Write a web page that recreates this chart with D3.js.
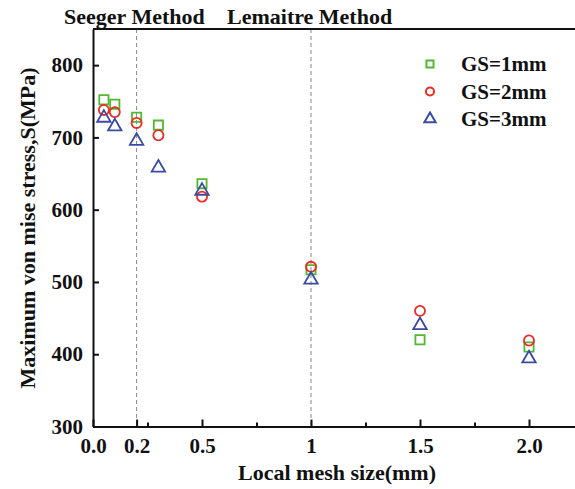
<!DOCTYPE html>
<html lang="en">
  <head>
    <meta charset="utf-8">
    <title>Mesh size vs stress</title>
    <style>
      body { margin: 0; background: #fff; }
      text { font-family: "Liberation Serif", "Times New Roman", serif; font-weight: bold; fill: #111; }
    </style>
  </head>
  <body>
    <svg class="chart"></svg>

    <script src="https://d3js.org/d3.v7.min.js"></script>
    <script type="text/javascript">
      // data
      var meshSizes = [0.05, 0.1, 0.2, 0.3, 0.5, 1, 1.5, 2];
      var gs1 = [752, 746, 728, 717, 636, 517, 420, 410];
      var gs2 = [738, 735, 720, 703, 618, 521, 460, 419];
      var gs3 = [727, 715, 695, 658, 626, 503, 440, 394];
      var seriesNames = ['GS=1mm', 'GS=2mm', 'GS=3mm'];
      var xTickValues = [0, 0.2, 0.5, 1, 1.5, 2];
      var xTickLabels = ['0.0', '0.2', '0.5', '1', '1.5', '2.0'];
      var xMinorTicks = [0.25, 0.75, 1.25, 1.75];
      var yTickValues = [300, 400, 500, 600, 700, 800];
      var methodLines = [0.2, 1];

      var w = 575;
      var h = 489;

      var svg = d3.select('.chart')
                  .attr('width', w)
                  .attr('height', h);

      var x = d3.scaleLinear().domain([0, 2.25]).range([93, 583.5]);
      var y = d3.scaleLinear().domain([300, 850]).range([426.5, 29]);

      var colors = ['#52b832', '#ee2a22', '#3a4ca2'];
      var symbols = [d3.symbolSquare, d3.symbolCircle, d3.symbolTriangle];
      var sizes = [85, 80, 78];
      var legendSizes = [50, 52, 55];
      var allSeries = [gs1, gs2, gs3];

      // dashed method separators
      svg.selectAll('line.sep')
         .data(methodLines)
         .enter()
         .append('line')
         .attr('class', 'sep')
         .attr('x1', function(d) { return x(d); })
         .attr('x2', function(d) { return x(d); })
         .attr('y1', y(850))
         .attr('y2', y(300))
         .attr('stroke', '#888')
         .attr('stroke-width', 1)
         .attr('stroke-dasharray', '4,3');

      // axes
      var xAxis = d3.axisBottom(x)
                    .tickValues(xTickValues)
                    .tickFormat(function(d, i) { return xTickLabels[i]; })
                    .tickSize(-7)
                    .tickSizeOuter(0)
                    .tickPadding(12);
      var gx = svg.append('g')
                  .attr('transform', 'translate(0,' + y(300) + ')')
                  .call(xAxis);

      var gxMinor = svg.append('g')
                       .attr('transform', 'translate(0,' + y(300) + ')')
                       .call(d3.axisBottom(x).tickValues(xMinorTicks).tickSize(-4).tickFormat(''));
      gxMinor.select('.domain').remove();

      var yAxis = d3.axisLeft(y)
                    .tickValues(yTickValues)
                    .tickSize(-6)
                    .tickSizeOuter(0)
                    .tickPadding(10);
      var gy = svg.append('g')
                  .attr('transform', 'translate(' + x(0) + ',0)')
                  .call(yAxis);

      svg.selectAll('.domain').attr('stroke', '#111').attr('stroke-width', 2);
      svg.selectAll('.tick line').attr('stroke', '#111').attr('stroke-width', 2);
      svg.selectAll('.tick text')
         .attr('font-family', '"Liberation Serif", serif')
         .attr('font-weight', 'bold')
         .attr('font-size', 21)
         .attr('fill', '#111');

      // top frame line
      svg.append('line')
         .attr('x1', x(0))
         .attr('x2', w)
         .attr('y1', y(850))
         .attr('y2', y(850))
         .attr('stroke', '#111')
         .attr('stroke-width', 2);

      // points
      allSeries.forEach(function(values, s) {
        svg.selectAll('path.s' + s)
           .data(values)
           .enter()
           .append('path')
           .attr('class', 's' + s)
           .attr('d', d3.symbol().type(symbols[s]).size(sizes[s]))
           .attr('transform', function(d, i) {
             return 'translate(' + x(meshSizes[i]) + ',' + y(d) + ')';
           })
           .attr('fill', 'none')
           .attr('stroke', colors[s])
           .attr('stroke-width', 1.8);
      });

      // legend
      var legend = svg.append('g').attr('transform', 'translate(430,64)');
      seriesNames.forEach(function(name, i) {
        legend.append('path')
              .attr('d', d3.symbol().type(symbols[i]).size(legendSizes[i]))
              .attr('transform', 'translate(0,' + (i * 27.5) + ')')
              .attr('fill', 'none')
              .attr('stroke', colors[i])
              .attr('stroke-width', 2);
        legend.append('text')
              .attr('x', 31)
              .attr('y', i * 27.5)
              .attr('dy', '0.35em')
              .attr('font-size', 21)
              .text(name);
      });

      // method titles
      svg.append('text')
         .attr('x', 64)
         .attr('y', 24)
         .attr('font-size', 22)
         .text('Seeger Method');
      svg.append('text')
         .attr('x', 227)
         .attr('y', 24)
         .attr('font-size', 22)
         .text('Lemaitre Method');

      // axis titles
      svg.append('text')
         .attr('x', 337)
         .attr('y', 480)
         .attr('text-anchor', 'middle')
         .attr('font-size', 22)
         .text('Local mesh size(mm)');

      svg.append('text')
         .attr('transform', 'translate(35,228) rotate(-90)')
         .attr('text-anchor', 'middle')
         .attr('font-size', 22)
         .text('Maximum von mise stress,S(MPa)');
    </script>
  </body>
</html>
